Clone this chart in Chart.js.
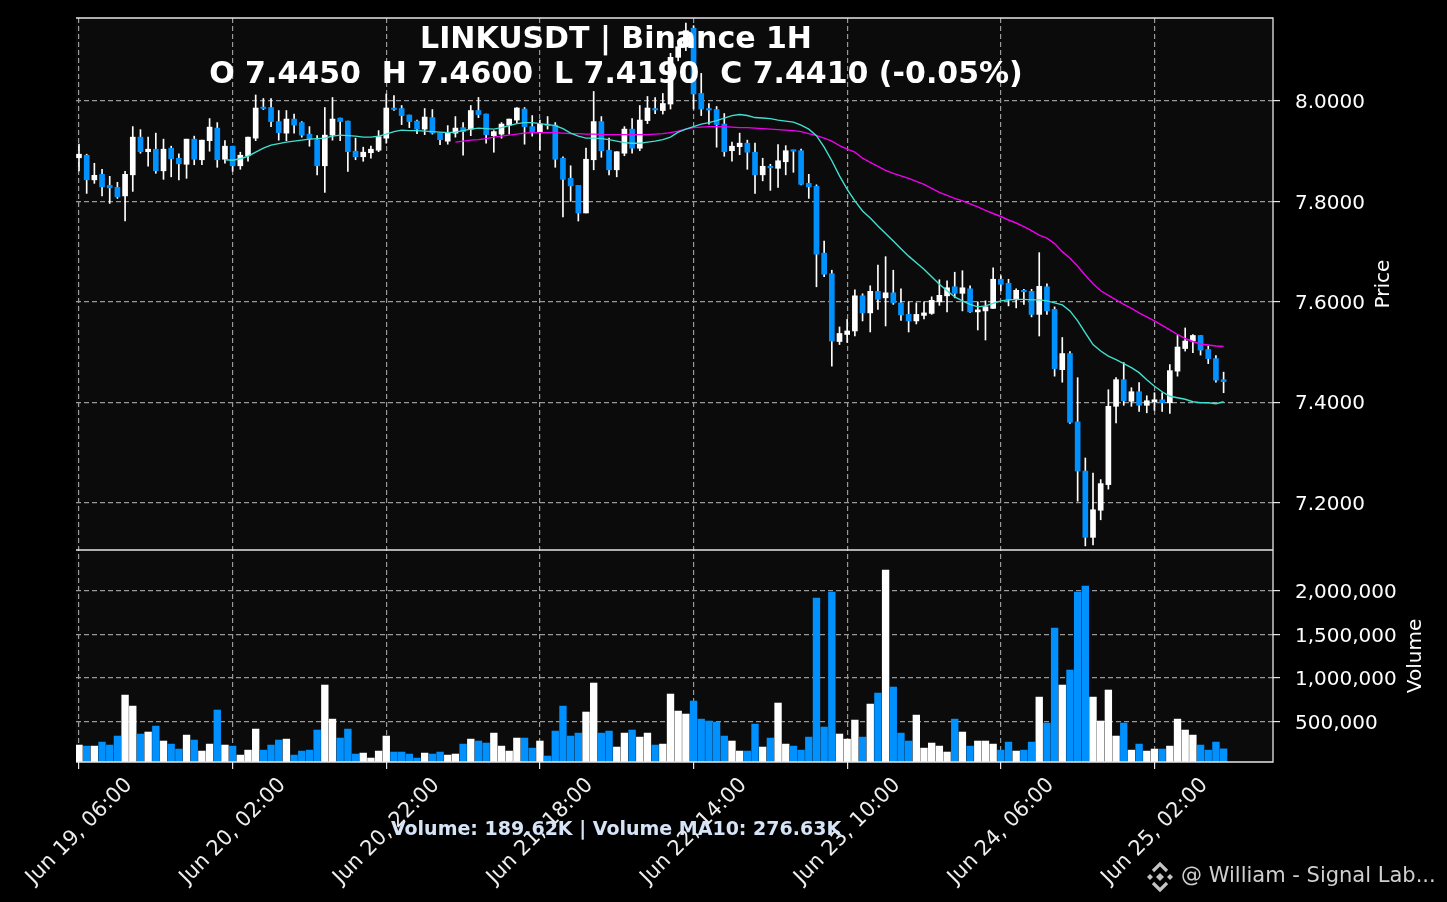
<!DOCTYPE html>
<html>
<head>
<meta charset="UTF-8">
<title>LINKUSDT | Binance 1H</title>
<script src="https://cdn.jsdelivr.net/npm/chart.js@4.4.1/dist/chart.umd.min.js"></script>
<style>
  html, body { margin: 0; padding: 0; background: #000; }
  canvas { display: block; }
</style>
</head>
<body>
<canvas id="chart" width="1447" height="902"></canvas>
<script>
// hourly candles, first one is Jun 19 06:00
var opens = [
  7.887,7.892,7.843,7.854,7.832,7.828,7.811,7.853,7.928,7.899,
  7.904,7.861,7.906,7.886,7.874,7.924,7.883,7.921,7.946,7.884,
  7.910,7.871,7.891,7.926,7.986,7.987,7.959,7.936,7.964,7.957,
  7.934,7.923,7.871,7.932,7.966,7.960,7.900,7.889,7.897,7.902,
  7.926,7.985,7.985,7.972,7.960,7.944,7.967,7.936,7.920,7.936,
  7.947,7.944,7.981,7.974,7.931,7.934,7.952,7.962,7.984,7.949,
  7.939,7.954,7.952,7.886,7.846,7.832,7.777,7.883,7.959,7.902,
  7.863,7.896,7.944,7.906,7.961,7.983,7.981,7.994,8.087,8.108,
  8.145,8.015,7.983,7.983,7.954,7.901,7.909,7.916,7.898,7.853,
  7.868,7.866,7.879,7.901,7.901,7.836,7.830,7.697,7.656,7.521,
  7.535,7.542,7.612,7.578,7.621,7.608,7.618,7.598,7.575,7.562,
  7.573,7.577,7.600,7.612,7.630,7.617,7.626,7.580,7.582,7.587,
  7.645,7.637,7.604,7.623,7.621,7.575,7.630,7.585,7.465,7.497,
  7.361,7.263,7.131,7.185,7.236,7.392,7.445,7.402,7.421,7.394,
  7.401,7.405,7.399,7.462,7.507,7.522,7.533,7.505,7.487,7.445
];
var highs = [
  7.914,7.894,7.876,7.864,7.850,7.838,7.860,7.949,7.943,7.928,
  7.936,7.924,7.910,7.895,7.924,7.930,7.922,7.965,7.957,7.921,
  7.910,7.898,7.928,8.012,8.005,8.005,7.981,7.981,7.974,7.959,
  7.949,7.931,7.987,8.007,7.966,7.960,7.926,7.908,7.910,7.941,
  8.014,8.011,7.991,7.972,7.962,7.985,7.983,7.936,7.951,7.969,
  7.957,7.991,8.007,7.974,7.941,7.957,7.964,7.987,7.987,7.971,
  7.962,7.969,7.957,7.889,7.871,7.832,7.906,8.019,7.969,7.926,
  7.899,7.949,7.965,7.991,8.009,8.007,8.015,8.095,8.120,8.155,
  8.150,8.055,7.995,7.989,7.975,7.918,7.936,7.922,7.916,7.886,
  7.874,7.913,7.911,7.902,7.904,7.854,7.833,7.721,7.663,7.550,
  7.565,7.624,7.616,7.632,7.673,7.690,7.663,7.626,7.600,7.598,
  7.600,7.610,7.644,7.642,7.659,7.662,7.632,7.600,7.602,7.668,
  7.652,7.645,7.626,7.625,7.625,7.698,7.636,7.590,7.529,7.501,
  7.449,7.289,7.259,7.246,7.425,7.449,7.479,7.429,7.439,7.413,
  7.419,7.419,7.475,7.533,7.548,7.535,7.533,7.512,7.493,7.460
];
var lows = [
  7.861,7.816,7.836,7.811,7.796,7.806,7.761,7.820,7.896,7.870,
  7.856,7.844,7.849,7.843,7.846,7.873,7.873,7.900,7.868,7.876,
  7.860,7.864,7.880,7.921,7.983,7.949,7.922,7.921,7.936,7.928,
  7.910,7.853,7.818,7.922,7.921,7.860,7.883,7.880,7.886,7.899,
  7.916,7.981,7.953,7.947,7.935,7.933,7.934,7.913,7.914,7.928,
  7.892,7.931,7.967,7.916,7.898,7.926,7.934,7.957,7.914,7.930,
  7.902,7.944,7.868,7.769,7.800,7.761,7.777,7.863,7.888,7.853,
  7.849,7.891,7.896,7.901,7.955,7.975,7.974,7.984,8.080,8.100,
  7.984,7.971,7.954,7.908,7.890,7.880,7.893,7.864,7.816,7.841,
  7.822,7.828,7.853,7.858,7.833,7.806,7.630,7.650,7.472,7.515,
  7.519,7.532,7.562,7.540,7.585,7.552,7.595,7.563,7.540,7.556,
  7.566,7.575,7.593,7.580,7.608,7.582,7.579,7.544,7.524,7.587,
  7.622,7.592,7.588,7.595,7.570,7.532,7.575,7.452,7.440,7.358,
  7.203,7.114,7.116,7.166,7.227,7.359,7.394,7.392,7.382,7.379,
  7.384,7.382,7.378,7.452,7.502,7.499,7.494,7.477,7.440,7.419
];
var closes = [
  7.894,7.843,7.852,7.829,7.827,7.809,7.854,7.928,7.899,7.904,
  7.861,7.904,7.885,7.875,7.924,7.884,7.922,7.948,7.883,7.910,
  7.871,7.892,7.928,7.986,7.985,7.959,7.937,7.964,7.952,7.932,
  7.924,7.871,7.932,7.964,7.959,7.899,7.889,7.898,7.904,7.929,
  7.986,7.983,7.971,7.959,7.944,7.968,7.936,7.923,7.936,7.946,
  7.939,7.981,7.973,7.933,7.939,7.954,7.964,7.986,7.949,7.939,
  7.954,7.951,7.884,7.844,7.831,7.777,7.884,7.959,7.901,7.863,
  7.899,7.944,7.906,7.962,7.986,7.982,7.995,8.087,8.108,8.140,
  8.014,7.984,7.982,7.953,7.899,7.910,7.916,7.898,7.853,7.870,
  7.867,7.881,7.901,7.900,7.834,7.829,7.695,7.655,7.522,7.537,
  7.542,7.612,7.578,7.621,7.605,7.618,7.598,7.574,7.562,7.575,
  7.578,7.603,7.613,7.628,7.617,7.628,7.580,7.584,7.590,7.645,
  7.635,7.604,7.623,7.620,7.575,7.631,7.582,7.467,7.497,7.360,
  7.263,7.131,7.186,7.238,7.392,7.445,7.403,7.421,7.394,7.403,
  7.405,7.399,7.463,7.510,7.522,7.533,7.504,7.487,7.444,7.441
];
var volumes = [
  233000,221000,221000,267000,233000,336000,805000,679000,359000,382000,
  450000,279000,244000,187000,347000,290000,164000,244000,634000,233000,
  221000,118000,175000,416000,175000,233000,290000,301000,118000,164000,
  175000,405000,920000,530000,313000,416000,130000,141000,84000,164000,
  336000,153000,153000,130000,84000,141000,130000,153000,118000,130000,
  244000,301000,279000,256000,370000,221000,164000,313000,313000,198000,
  279000,107000,393000,679000,336000,370000,611000,943000,370000,393000,
  210000,370000,405000,324000,370000,233000,244000,817000,622000,588000,
  737000,530000,508000,496000,336000,279000,164000,164000,473000,210000,
  313000,714000,244000,221000,175000,324000,1916000,439000,1985000,359000,
  301000,519000,324000,702000,828000,2237000,897000,370000,279000,576000,
  198000,256000,221000,153000,530000,382000,221000,279000,279000,244000,
  175000,267000,164000,175000,267000,782000,485000,1573000,920000,1092000,
  1985000,2053000,782000,508000,863000,336000,485000,175000,244000,164000,
  187000,187000,221000,530000,405000,347000,233000,175000,267000,189620
];
// moving averages as drawn, starting at candle 19 and candle 49
var ma20Start = 19;
var ma20 = [
  7.883,7.882,7.885,7.890,7.898,7.906,7.912,7.915,7.918,7.920,
  7.922,7.924,7.925,7.926,7.930,7.932,7.931,7.930,7.928,7.928,
  7.930,7.934,7.939,7.942,7.941,7.941,7.940,7.939,7.938,7.937,
  7.938,7.941,7.944,7.946,7.945,7.944,7.947,7.951,7.955,7.957,
  7.957,7.955,7.953,7.951,7.945,7.936,7.930,7.926,7.926,7.925,
  7.923,7.920,7.917,7.916,7.916,7.918,7.920,7.923,7.928,7.938,
  7.944,7.949,7.954,7.957,7.961,7.966,7.971,7.973,7.971,7.967,
  7.966,7.965,7.962,7.960,7.958,7.952,7.944,7.931,7.908,7.881,
  7.851,7.824,7.801,7.781,7.767,7.751,7.736,7.721,7.706,7.691,
  7.678,7.665,7.650,7.635,7.622,7.610,7.602,7.595,7.590,7.592,
  7.597,7.602,7.604,7.605,7.605,7.604,7.604,7.602,7.598,7.594,
  7.582,7.562,7.538,7.515,7.502,7.492,7.485,7.477,7.469,7.459,
  7.445,7.432,7.421,7.412,7.409,7.406,7.401,7.399,7.399,7.397,
  7.401
];
var ma50Start = 49;
var ma50 = [
  7.918,7.920,7.922,7.923,7.925,7.928,7.930,7.932,7.934,7.936,
  7.937,7.937,7.937,7.937,7.936,7.935,7.935,7.934,7.934,7.933,
  7.933,7.933,7.933,7.933,7.933,7.933,7.934,7.935,7.937,7.940,
  7.944,7.947,7.948,7.949,7.949,7.949,7.948,7.947,7.947,7.946,
  7.945,7.944,7.943,7.942,7.941,7.939,7.935,7.931,7.926,7.920,
  7.911,7.904,7.898,7.886,7.878,7.870,7.862,7.856,7.851,7.846,
  7.840,7.834,7.826,7.818,7.812,7.806,7.801,7.795,7.789,7.782,
  7.776,7.770,7.763,7.757,7.750,7.742,7.733,7.727,7.716,7.700,
  7.687,7.671,7.653,7.636,7.622,7.613,7.604,7.595,7.587,7.578,
  7.570,7.562,7.553,7.544,7.535,7.527,7.521,7.516,7.514,7.512,
  7.511
];
var tickIndex = [0, 20, 40, 60, 80, 100, 120, 140];
var tickLabels = ['Jun 19, 06:00', 'Jun 20, 02:00', 'Jun 20, 22:00', 'Jun 21, 18:00',
                  'Jun 22, 14:00', 'Jun 23, 10:00', 'Jun 24, 06:00', 'Jun 25, 02:00'];
var priceTicks = [7.2, 7.4, 7.6, 7.8, 8.0];
var volumeTicks = [500000, 1000000, 1500000, 2000000];

var title1 = 'LINKUSDT | Binance 1H';
var title2 = 'O 7.4450  H 7.4600  L 7.4190  C 7.4410 (-0.05%)';
var footer = 'Volume: 189.62K | Volume MA10: 276.63K';
var watermark = '@ William - Signal Lab...';

var UP = '#ffffff';
var DOWN = '#0091ff';
var GRID = '#999999';
var FONT = '"DejaVu Sans", "Liberation Sans", sans-serif';

var idx = closes.map(function (c, i) { return i; });
var colors = idx.map(function (i) { return closes[i] >= opens[i] ? UP : DOWN; });

function fixedTicks(list) {
  return function (scale) {
    scale.ticks = list.map(function (v) { return { value: v }; });
  };
}

function sideWidth(scale) {
  scale.width = 174;
  scale.paddingTop = 0;
  scale.paddingBottom = 0;
}

var gridOpts = { color: GRID, lineWidth: 1.2, offset: false, tickLength: 7, tickColor: '#e6e6e6', tickWidth: 1.2 };

// backgrounds, frame lines and the loose texts
var decor = {
  id: 'decor',
  beforeDraw: function (chart) {
    var c = chart.ctx, a = chart.chartArea;
    c.save();
    c.fillStyle = '#000';
    c.fillRect(0, 0, chart.width, chart.height);
    c.fillStyle = '#0b0b0b';
    c.fillRect(a.left, a.top, a.right - a.left, a.bottom - a.top);
    c.restore();
  },
  afterDraw: function (chart) {
    var c = chart.ctx, a = chart.chartArea;
    var yp = chart.scales.y, yv = chart.scales.yv;
    c.save();
    c.strokeStyle = '#e6e6e6';
    c.lineWidth = 1.3;
    c.beginPath();
    c.moveTo(a.left, a.top); c.lineTo(a.right, a.top);
    c.lineTo(a.right, a.bottom); c.lineTo(a.left, a.bottom);
    c.moveTo(a.left, yp.bottom); c.lineTo(a.right, yp.bottom);
    c.stroke();

    c.fillStyle = '#ffffff';
    c.textAlign = 'center';
    c.textBaseline = 'middle';
    c.font = 'bold 30px ' + FONT;
    c.fillText(title1, 616, 40);
    c.fillText(title2, 616, 75);

    c.font = '20px ' + FONT;
    c.save();
    c.translate(1384, (yp.top + yp.bottom) / 2);
    c.rotate(-Math.PI / 2);
    c.fillText('Price', 0, 0);
    c.restore();
    c.save();
    c.translate(1416, (yv.top + yv.bottom) / 2);
    c.rotate(-Math.PI / 2);
    c.fillText('Volume', 0, 0);
    c.restore();

    c.fillStyle = '#d6e4f7';
    c.font = 'bold 19px ' + FONT;
    c.fillText(footer, 616, 830);

    // binance mark + signature
    var lx = 1160, ly = 877;
    c.fillStyle = '#c4c4c4';
    c.strokeStyle = '#c4c4c4';
    [[0, 0, 4], [-10, 0, 3], [10, 0, 3]].forEach(function (d) {
      c.beginPath();
      c.moveTo(lx + d[0], ly + d[1] - d[2]); c.lineTo(lx + d[0] + d[2], ly + d[1]);
      c.lineTo(lx + d[0], ly + d[1] + d[2]); c.lineTo(lx + d[0] - d[2], ly + d[1]);
      c.closePath();
      c.fill();
    });
    c.lineWidth = 3.2;
    c.beginPath();
    c.moveTo(lx - 7, ly - 6); c.lineTo(lx, ly - 13); c.lineTo(lx + 7, ly - 6);
    c.moveTo(lx - 7, ly + 6); c.lineTo(lx, ly + 13); c.lineTo(lx + 7, ly + 6);
    c.stroke();
    c.fillStyle = '#cfcfcf';
    c.textAlign = 'left';
    c.font = '21px ' + FONT;
    c.fillText(watermark, 1181, 877);
    c.restore();
  }
};

var ctx = document.getElementById('chart').getContext('2d');
var chart = new Chart(ctx, {
  type: 'bar',
  data: {
    datasets: [
      {
        type: 'line',
        label: 'MA20',
        data: ma20.map(function (v, k) { return { x: k + ma20Start, y: v }; }),
        borderColor: '#40e0d0',
        borderWidth: 1.4,
        pointRadius: 0,
        yAxisID: 'y',
        order: 0
      },
      {
        type: 'line',
        label: 'MA50',
        data: ma50.map(function (v, k) { return { x: k + ma50Start, y: v }; }),
        borderColor: '#f000f0',
        borderWidth: 1.4,
        pointRadius: 0,
        yAxisID: 'y',
        order: 0
      },
      {
        label: 'body',
        data: idx.map(function (i) { return { x: i, y: [Math.min(opens[i], closes[i]), Math.max(opens[i], closes[i])] }; }),
        backgroundColor: colors,
        barThickness: 5,
        minBarLength: 1.5,
        grouped: false,
        yAxisID: 'y',
        order: 1
      },
      {
        label: 'wick',
        data: idx.map(function (i) { return { x: i, y: [lows[i], highs[i]] }; }),
        backgroundColor: '#ffffff',
        barThickness: 1,
        grouped: false,
        yAxisID: 'y',
        order: 2
      },
      {
        label: 'volume',
        data: idx.map(function (i) { return { x: i, y: volumes[i] }; }),
        backgroundColor: colors,
        barThickness: 6.7,
        grouped: false,
        yAxisID: 'yv',
        order: 3
      }
    ]
  },
  options: {
    responsive: false,
    animation: false,
    devicePixelRatio: 1,
    layout: { padding: { left: 76, top: 18, right: 0, bottom: 0 } },
    plugins: { legend: { display: false }, tooltip: { enabled: false } },
    scales: {
      x: {
        type: 'linear',
        position: 'bottom',
        min: -0.39,
        max: 155.43,
        offset: false,
        afterBuildTicks: fixedTicks(tickIndex),
        afterFit: function (s) { s.height = 140; s.paddingLeft = 0; s.paddingRight = 0; },
        border: { display: false, dash: [5, 3] },
        grid: gridOpts,
        ticks: {
          autoSkip: false,
          minRotation: 45,
          maxRotation: 45,
          labelOffset: 50,
          padding: 4,
          color: '#eeeeee',
          font: { family: FONT, size: 21 },
          callback: function (v) { return tickLabels[tickIndex.indexOf(v)]; }
        }
      },
      y: {
        type: 'linear',
        position: 'right',
        stack: 'panes',
        stackWeight: 532,
        min: 7.1058,
        max: 8.1653,
        afterBuildTicks: fixedTicks(priceTicks),
        afterFit: sideWidth,
        border: { display: false, dash: [5, 3] },
        grid: gridOpts,
        ticks: {
          color: '#ffffff',
          padding: 15,
          labelOffset: 2,
          font: { family: FONT, size: 20 },
          callback: function (v) { return v.toFixed(4); }
        }
      },
      yv: {
        type: 'linear',
        position: 'right',
        stack: 'panes',
        stackWeight: 212,
        min: 39000,
        max: 2466000,
        afterBuildTicks: fixedTicks(volumeTicks),
        afterFit: sideWidth,
        border: { display: false, dash: [5, 3] },
        grid: gridOpts,
        ticks: {
          color: '#ffffff',
          padding: 15,
          labelOffset: 2,
          font: { family: FONT, size: 20 },
          callback: function (v) { return v.toLocaleString('en-US'); }
        }
      }
    }
  },
  plugins: [decor]
});
</script>
</body>
</html>
